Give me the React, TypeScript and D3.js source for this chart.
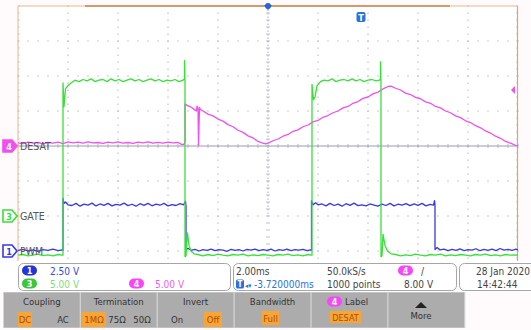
import React from "react";
import * as d3 from "d3";

// ---- Acquisition settings ----
const TIME_PER_DIV_MS = 2;
const H_DIVS = 10;
const V_DIVS = 8;
const TIME_DELAY_MS = -3.72;
const TRIGGER_LEVEL_V = 8.0;

// ---- Channel traces: [time in ms from left edge of screen, volts] ----
const GATE: [number, number][] = [
  [0, -5.6], [0.2, -5.5], [0.4, -5.7], [0.6, -5.6], [0.8, -5.45], [1.0, -5.65], [1.2, -5.55], [1.4, -5.7], [1.6, -5.5], [1.76, -5.6],
  [1.8, -5.6], [1.8, 19.0], [1.84, 15.6], [1.9, 18.2], [2.0, 18.6], [2.12, 19.0], [2.28, 19.4],
  [2.44, 19.2], [2.6, 19.5], [2.76, 19.3], [2.92, 19.6], [3.08, 19.2], [3.24, 19.4], [3.4, 19.5], [3.56, 19.2], [3.72, 19.6],
  [3.88, 19.3], [4.04, 19.5], [4.2, 19.2], [4.36, 19.4], [4.52, 19.6], [4.68, 19.3], [4.84, 19.5], [5.0, 19.2], [5.16, 19.4],
  [5.32, 19.6], [5.48, 19.3], [5.64, 19.5], [5.8, 19.2], [5.96, 19.4], [6.12, 19.3], [6.28, 19.5], [6.44, 19.2], [6.6, 19.4],
  [6.66, 19.6], [6.66, 22.2], [6.68, 19.0], [6.68, -5.8], [6.72, -5.7], [6.78, -2.4], [6.84, -4.2], [6.92, -5.0], [7.04, -5.4], [7.2, -5.5],
  [7.4, -5.7], [7.6, -5.5], [7.8, -5.65], [8.0, -5.45], [8.2, -5.6], [8.4, -5.7], [8.6, -5.5], [8.8, -5.6], [9.0, -5.45], [9.2, -5.7],
  [9.4, -5.55], [9.6, -5.65], [9.8, -5.5], [10.0, -5.6], [10.2, -5.7], [10.4, -5.5], [10.6, -5.6], [10.8, -5.45], [11.0, -5.65],
  [11.2, -5.55], [11.4, -5.7], [11.6, -5.5], [11.72, -5.6],
  [11.76, -5.6], [11.76, 18.8], [11.82, 16.6], [11.88, 17.0], [11.96, 18.6], [12.1, 19.2], [12.24, 19.4],
  [12.4, 19.3], [12.56, 19.6], [12.72, 19.2], [12.88, 19.4], [13.04, 19.5], [13.2, 19.3], [13.36, 19.6], [13.52, 19.3],
  [13.68, 19.5], [13.84, 19.2], [14.0, 19.4], [14.16, 19.5], [14.32, 19.3], [14.46, 19.4],
  [14.5, 19.6], [14.5, 22.0], [14.52, 19.0], [14.52, -5.8], [14.56, -5.7], [14.6, -2.6], [14.68, -4.2], [14.78, -5.0], [14.92, -5.4], [15.1, -5.5],
  [15.3, -5.7], [15.5, -5.55], [15.7, -5.65], [15.9, -5.45], [16.1, -5.6], [16.3, -5.7], [16.5, -5.5], [16.7, -5.6], [16.9, -5.45],
  [17.1, -5.7], [17.3, -5.55], [17.5, -5.65], [17.7, -5.5], [17.9, -5.6], [18.1, -5.7], [18.3, -5.5], [18.5, -5.6], [18.7, -5.45],
  [18.9, -5.65], [19.1, -5.55], [19.3, -5.7], [19.5, -5.5], [19.7, -5.6], [19.9, -5.55], [20, -5.6],
];

const PWM: [number, number][] = [
  [0, 0.05], [0.2, 0.12], [0.4, 0.0], [0.6, 0.08], [0.8, -0.02], [1.0, 0.1], [1.2, 0.04], [1.4, 0.14], [1.6, 0.02], [1.76, 0.08],
  [1.8, 0.05], [1.8, 3.75], [1.84, 3.4], [1.9, 3.5], [2.0, 3.3],
  [2.16, 3.25], [2.32, 3.4], [2.48, 3.2], [2.64, 3.35], [2.8, 3.28], [2.96, 3.42], [3.12, 3.22], [3.28, 3.36], [3.44, 3.26],
  [3.6, 3.4], [3.76, 3.22], [3.92, 3.33], [4.08, 3.28], [4.24, 3.42], [4.4, 3.24], [4.56, 3.34], [4.72, 3.2], [4.88, 3.38],
  [5.04, 3.26], [5.2, 3.4], [5.36, 3.23], [5.52, 3.35], [5.68, 3.27], [5.84, 3.4], [6.0, 3.22], [6.16, 3.32], [6.32, 3.25],
  [6.48, 3.38], [6.62, 3.3],
  [6.7, 3.55], [6.72, 3.2], [6.72, 0.1],
  [6.8, 0.2], [6.92, 0.05], [7.08, 0.12], [7.24, 0.0], [7.4, 0.1], [7.56, 0.04], [7.72, 0.14], [7.88, 0.02], [8.04, 0.1],
  [8.2, 0.06], [8.36, -0.02], [8.52, 0.12], [8.68, 0.04], [8.84, 0.1], [9.0, 0.0], [9.16, 0.12], [9.32, 0.06], [9.48, 0.14],
  [9.64, 0.02], [9.8, 0.1], [9.96, 0.05], [10.12, 0.13], [10.28, 0.0], [10.44, 0.1], [10.6, 0.05], [10.76, 0.14], [10.92, 0.03],
  [11.08, 0.1], [11.24, 0.06], [11.4, 0.12], [11.56, 0.02], [11.7, 0.08],
  [11.74, 0.05], [11.74, 3.6], [11.8, 3.3], [11.9, 3.45], [12.0, 3.3],
  [12.16, 3.36], [12.32, 3.22], [12.48, 3.4], [12.64, 3.25], [12.8, 3.35], [12.96, 3.2], [13.12, 3.38], [13.28, 3.26],
  [13.44, 3.42], [13.6, 3.24], [13.76, 3.3], [13.92, 3.22], [14.08, 3.36], [14.24, 3.28], [14.4, 3.2], [14.56, 3.35],
  [14.72, 3.25], [14.88, 3.4], [15.04, 3.22], [15.2, 3.34], [15.36, 3.27], [15.52, 3.38], [15.68, 3.24], [15.84, 3.36],
  [16.0, 3.26], [16.16, 3.4], [16.32, 3.22], [16.48, 3.33], [16.62, 3.28],
  [16.66, 3.6], [16.68, 3.3], [16.68, 0.1],
  [16.76, 0.25], [16.88, 0.08], [17.04, 0.14], [17.2, 0.02], [17.36, 0.12], [17.52, 0.05], [17.68, 0.15], [17.84, 0.03],
  [18.0, 0.1], [18.16, 0.06], [18.32, 0.16], [18.48, 0.02], [18.64, 0.12], [18.8, 0.05], [18.96, 0.14], [19.12, 0.03],
  [19.28, 0.18], [19.44, 0.06], [19.6, 0.12], [19.76, 0.04], [19.92, 0.14], [20, 0.08],
];

const DESAT: [number, number][] = [
  [0, 0.45], [0.2, 0.35], [0.4, 0.55], [0.6, 0.4], [0.8, 0.5], [1.0, 0.3], [1.2, 0.5], [1.4, 0.42], [1.6, 0.55], [1.8, 0.35],
  [2.0, 0.6], [2.2, 0.45], [2.4, 0.55], [2.6, 0.4], [2.8, 0.6], [3.0, 0.45], [3.2, 0.5], [3.4, 0.38], [3.6, 0.55], [3.8, 0.45],
  [4.0, 0.6], [4.2, 0.42], [4.4, 0.5], [4.6, 0.38], [4.8, 0.55], [5.0, 0.45], [5.2, 0.6], [5.4, 0.4], [5.6, 0.52], [5.8, 0.42],
  [6.0, 0.55], [6.2, 0.45], [6.4, 0.5], [6.56, 0.2], [6.64, 0.25], [6.68, 0.6],
  [6.68, 6.0], [6.76, 5.8], [6.9, 5.6], [7.06, 5.2], [7.14, 5.0], [7.16, 5.7], [7.2, 5.4], [7.22, 0.1], [7.26, 5.5], [7.3, 5.2],
  [7.4, 5.0], [7.6, 4.55], [7.8, 4.3], [8.0, 3.85], [8.2, 3.55], [8.4, 3.05], [8.6, 2.75], [8.8, 2.25], [9.0, 1.95], [9.2, 1.45],
  [9.4, 1.15], [9.6, 0.65], [9.76, 0.45], [9.9, 0.3], [10.0, 0.4],
  [10.2, 0.75], [10.4, 1.0], [10.6, 1.4], [10.8, 1.65], [11.0, 2.1], [11.2, 2.3], [11.4, 2.75], [11.6, 3.0], [11.8, 3.45],
  [12.0, 3.65], [12.2, 4.1], [12.4, 4.35], [12.6, 4.75], [12.8, 5.0], [13.0, 5.45], [13.2, 5.65], [13.4, 6.1], [13.6, 6.35],
  [13.8, 6.8], [14.0, 7.0], [14.2, 7.45], [14.4, 7.7], [14.6, 8.15], [14.8, 8.5], [14.92, 8.55],
  [15.1, 8.25], [15.3, 8.0], [15.5, 7.55], [15.7, 7.35], [15.9, 6.95], [16.1, 6.75], [16.3, 6.3], [16.5, 6.1], [16.7, 5.65],
  [16.9, 5.45], [17.1, 5.0], [17.3, 4.75], [17.5, 4.3], [17.7, 4.05], [17.9, 3.6], [18.1, 3.35], [18.3, 2.9], [18.5, 2.6],
  [18.7, 2.15], [18.9, 1.85], [19.1, 1.4], [19.3, 1.1], [19.5, 0.65], [19.7, 0.4], [19.9, 0.1], [20, 0.05],
];

// ---- Channel setup: volts/div and ground offset in divisions ----
const CHANNELS = [
  { id: 4, label: "DESAT", voltsPerDiv: 5, offsetDiv: 0, color: "#f050f0", data: DESAT },
  { id: 1, label: "PWM", voltsPerDiv: 2.5, offsetDiv: -3, color: "#3838e6", data: PWM },
  { id: 3, label: "GATE", voltsPerDiv: 5, offsetDiv: -2, color: "#38e038", data: GATE },
];

const SOFTKEYS = ["Coupling", "Termination", "Invert", "Bandwidth", "Label", "More"];

const FONT = "'DejaVu Sans Condensed', 'Liberation Sans Narrow', 'DejaVu Sans', sans-serif";

const W = 531;
const H = 330;
const PLOT = { left: 18, right: 518, top: 6, bottom: 286 };
const CLIP_BOTTOM = 261;

export default function App() {
  const x = d3.scaleLinear().domain([0, TIME_PER_DIV_MS * H_DIVS]).range([PLOT.left, PLOT.right]);
  const yDiv = d3.scaleLinear().domain([-V_DIVS / 2, V_DIVS / 2]).range([PLOT.bottom, PLOT.top]);
  const divW = (PLOT.right - PLOT.left) / H_DIVS;
  const divH = (PLOT.bottom - PLOT.top) / V_DIVS;
  const cx = x(TIME_PER_DIV_MS * H_DIVS / 2);
  const cy = yDiv(0);

  const chY = (ch: typeof CHANNELS[number]) => (v: number) => yDiv(ch.offsetDiv + v / ch.voltsPerDiv);

  // dotted graticule
  const dots: JSX.Element[] = [];
  for (let i = 1; i < H_DIVS; i++) {
    if (i === H_DIVS / 2) continue;
    const gx = PLOT.left + i * divW;
    for (let yy = PLOT.top; yy <= CLIP_BOTTOM; yy += divH / 5) {
      dots.push(<rect key={`v${i}-${yy}`} x={gx - 0.5} y={yy - 0.5} width={1} height={1.5} fill="#b9b9b9" />);
    }
  }
  for (let j = 1; j < V_DIVS; j++) {
    if (j === V_DIVS / 2) continue;
    const gy = PLOT.top + j * divH;
    if (gy > CLIP_BOTTOM) continue;
    for (let xx = PLOT.left; xx <= PLOT.right; xx += divW / 5) {
      dots.push(<rect key={`h${j}-${xx}`} x={xx - 0.75} y={gy - 0.5} width={1.5} height={1} fill="#b9b9b9" />);
    }
  }
  // centre axis minor ticks
  const ticks: JSX.Element[] = [];
  for (let xx = PLOT.left; xx <= PLOT.right; xx += divW / 5) {
    ticks.push(<line key={`tx${xx}`} x1={xx} x2={xx} y1={cy - 2} y2={cy + 2} stroke="#a8a8bc" strokeWidth={0.8} />);
  }
  for (let yy = PLOT.top; yy <= CLIP_BOTTOM; yy += divH / 5) {
    ticks.push(<line key={`ty${yy}`} x1={cx - 2} x2={cx + 2} y1={yy} y2={yy} stroke="#b0b0c0" strokeWidth={0.8} />);
    ticks.push(<line key={`lb${yy}`} x1={PLOT.left} x2={PLOT.left + 2} y1={yy} y2={yy} stroke="#c8c8c8" strokeWidth={0.8} />);
    ticks.push(<line key={`rb${yy}`} x1={PLOT.right - 2} x2={PLOT.right} y1={yy} y2={yy} stroke="#c8c8c8" strokeWidth={0.8} />);
  }

  const trigX = x(TIME_PER_DIV_MS * H_DIVS / 2 - TIME_DELAY_MS);
  const trigY = chY(CHANNELS[0])(TRIGGER_LEVEL_V);

  const marker = (ch: typeof CHANNELS[number], filled: boolean) => {
    const gy = yDiv(ch.offsetDiv);
    const x0 = 3;
    return (
      <g key={`m${ch.id}`}>
        <path
          d={`M${x0},${gy - 6} H${x0 + 9} L${x0 + 14},${gy} L${x0 + 9},${gy + 6} H${x0} Z`}
          fill={filled ? ch.color : "#ffffff"}
          stroke={ch.color}
          strokeWidth={1.6}
        />
        <text x={x0 + 6} y={gy + 3.5} fontSize={9} fontWeight="bold" textAnchor="middle" fill={filled ? "#fff" : ch.color} fontFamily={FONT}>
          {ch.id}
        </text>
        <text x={20} y={gy + 4} fontSize={10.5} fill="#555" fontFamily={FONT}>
          {ch.label}
        </text>
      </g>
    );
  };

  const pill = (px: number, py: number, n: number, color: string) => (
    <g>
      <rect x={px} y={py - 5} width={15} height={10} rx={5} fill={color} />
      <text x={px + 7.5} y={py + 3.3} fontSize={9} fontWeight="bold" textAnchor="middle" fill="#fff" fontFamily={FONT}>{n}</text>
    </g>
  );

  const keyW = 75.7;
  const keyX = (i: number) => 4 + i * (keyW + 1.2);
  const orange = "#f7a536";
  const orangeText = "#b04c00";

  return (
    <svg width={W} height={H} style={{ position: "fixed", left: 0, top: 0, background: "#ffffff" }} fontFamily={FONT}>
      <defs>
        <clipPath id="plotClip">
          <rect x={PLOT.left} y={PLOT.top} width={PLOT.right - PLOT.left} height={CLIP_BOTTOM - PLOT.top} />
        </clipPath>
      </defs>
      <rect x={0} y={0} width={W} height={H} fill="#fffafb" />
      <rect x={PLOT.left} y={PLOT.top} width={PLOT.right - PLOT.left} height={CLIP_BOTTOM - PLOT.top} fill="#ffffff" />

      {/* graticule */}
      {dots}
      <line x1={PLOT.left} x2={PLOT.right} y1={cy} y2={cy} stroke="#9c9cb4" strokeWidth={1} />
      {Array.from({ length: 60 }, (_, k) => PLOT.top + k * (divH / 10)).filter((yy) => yy <= CLIP_BOTTOM).map((yy) => (
        <rect key={`cd${yy}`} x={cx - 0.5} y={yy} width={1} height={1.5} fill="#b0b0c0" />
      ))}
      {ticks}

      {/* screen border */}
      <line x1={PLOT.left} x2={PLOT.left} y1={PLOT.top} y2={CLIP_BOTTOM} stroke="#e8b48c" strokeWidth={1} />
      <line x1={PLOT.right - 0.5} x2={PLOT.right - 0.5} y1={PLOT.top} y2={CLIP_BOTTOM} stroke="#e0a070" strokeWidth={1.2} />
      <line x1={PLOT.left} x2={PLOT.right} y1={PLOT.top} y2={PLOT.top} stroke="#eab890" strokeWidth={1} />
      <line x1={85} x2={450} y1={PLOT.top} y2={PLOT.top} stroke="#d49a6a" strokeWidth={2} />

      {/* traces */}
      <g clipPath="url(#plotClip)">
        {CHANNELS.map((ch) => {
          const line = d3.line<[number, number]>().x((d) => x(d[0])).y((d) => chY(ch)(d[1]));
          return <path key={ch.id} d={line(ch.data) || ""} fill="none" stroke={ch.color} strokeWidth={1.3} strokeLinejoin="round" />;
        })}
      </g>

      {/* time reference and trigger markers */}
      <path d={`M${cx - 4},${PLOT.top - 1} L${cx + 4},${PLOT.top - 1} L${cx},${PLOT.top + 4} Z`} fill="#2a62e0" />
      <circle cx={cx} cy={PLOT.top} r={3} fill="#2a62e0" />
      <rect x={trigX - 4.5} y={12} width={9} height={10} rx={2} fill="#2a70e0" />
      <text x={trigX} y={20.5} fontSize={9} fontWeight="bold" textAnchor="middle" fill="#fff" fontFamily={FONT}>T</text>
      <path d={`M${PLOT.right - 7},${trigY} L${PLOT.right - 3},${trigY - 4} L${PLOT.right - 3},${trigY + 4} Z`} fill="#f050f0" />

      {/* channel ground markers and labels */}
      {marker(CHANNELS[0], true)}
      {marker(CHANNELS[2], false)}
      {marker(CHANNELS[1], false)}

      {/* status panel */}
      <rect x={0} y={CLIP_BOTTOM} width={W} height={31} fill="#ffffff" />
      <rect x={18.5} y={263.5} width={212} height={27} rx={5} fill="#fff" stroke="#a6a6a6" />
      {pill(22, 270.5, 1, "#2036d8")}
      <text x={50} y={274.5} fontSize={10} fill="#3848dc">2.50 V</text>
      {pill(22, 283.5, 3, "#38c838")}
      <text x={50} y={287.5} fontSize={10} fill="#7edc7e">5.00 V</text>
      {pill(129, 283.5, 4, "#f845f8")}
      <text x={155} y={287.5} fontSize={10} fill="#f060f0">5.00 V</text>

      <rect x={233.5} y={263.5} width={223} height={27} rx={5} fill="#fff" stroke="#a6a6a6" />
      <text x={236} y={274.5} fontSize={10} fill="#444">2.00ms</text>
      <text x={327} y={274.5} fontSize={10} fill="#444">50.0kS/s</text>
      {pill(398, 270.5, 4, "#f845f8")}
      <text x={421} y={274.5} fontSize={10} fill="#444">/</text>
      <rect x={236} y={279.5} width={8} height={9} rx={1.5} fill="#2a70e0" />
      <text x={240} y={287.3} fontSize={8} fontWeight="bold" textAnchor="middle" fill="#fff">T</text>
      <text x={245} y={287.5} fontSize={7} fill="#2a70e0">◂▾</text>
      <text x={254} y={287.5} fontSize={10} fill="#2a70e0">-3.720000ms</text>
      <text x={327} y={287.5} fontSize={10} fill="#444">1000 points</text>
      <text x={404} y={287.5} fontSize={10} fill="#444">8.00 V</text>

      <rect x={459.5} y={263.5} width={80} height={27} rx={5} fill="#fff" stroke="#a6a6a6" />
      <text x={476} y={274.5} fontSize={10} fill="#444">28 Jan  2020</text>
      <text x={477} y={287.5} fontSize={10} fill="#444">14:42:44</text>

      {/* softkey menu */}
      <rect x={3} y={292} width={keyX(6) - 3} height={36} fill="#d6d6d6" />
      {SOFTKEYS.map((k, i) => (
        <g key={k}>
          <rect x={keyX(i)} y={292.5} width={keyW} height={35} fill="#acacac" />
          {k !== "Label" && k !== "More" && (
            <text x={keyX(i) + keyW / 2} y={305} fontSize={9.5} textAnchor="middle" fill="#333">{k}</text>
          )}
        </g>
      ))}
      {/* Coupling */}
      <rect x={18} y={312} width={14} height={15} fill={orange} />
      <text x={25} y={323} fontSize={9.5} textAnchor="middle" fill={orangeText}>DC</text>
      <text x={63} y={323} fontSize={9.5} textAnchor="middle" fill="#333">AC</text>
      {/* Termination */}
      <rect x={82} y={312} width={24} height={15} fill={orange} />
      <text x={94} y={323} fontSize={9.5} textAnchor="middle" fill={orangeText}>1MΩ</text>
      <text x={117} y={323} fontSize={9.5} textAnchor="middle" fill="#333">75Ω</text>
      <text x={142} y={323} fontSize={9.5} textAnchor="middle" fill="#333">50Ω</text>
      {/* Invert */}
      <text x={177} y={323} fontSize={9.5} textAnchor="middle" fill="#333">On</text>
      <rect x={204} y={312} width={18} height={15} fill={orange} />
      <text x={213} y={323} fontSize={9.5} textAnchor="middle" fill={orangeText}>Off</text>
      {/* Bandwidth */}
      <rect x={262} y={311} width={17} height={14} fill={orange} />
      <text x={270.5} y={321.5} fontSize={9.5} textAnchor="middle" fill={orangeText}>Full</text>
      {/* Label */}
      {pill(327, 301.5, 4, "#f845f8")}
      <text x={345} y={305} fontSize={9.5} fill="#333">Label</text>
      <rect x={330} y={311} width={31} height={12} fill={orange} />
      <text x={345.5} y={320.5} fontSize={9} textAnchor="middle" fill={orangeText}>DESAT</text>
      {/* More */}
      <path d="M415,308 L421,302 L427,308 Z" fill="#222" />
      <text x={421} y={319} fontSize={9.5} textAnchor="middle" fill="#333">More</text>
    </svg>
  );
}
